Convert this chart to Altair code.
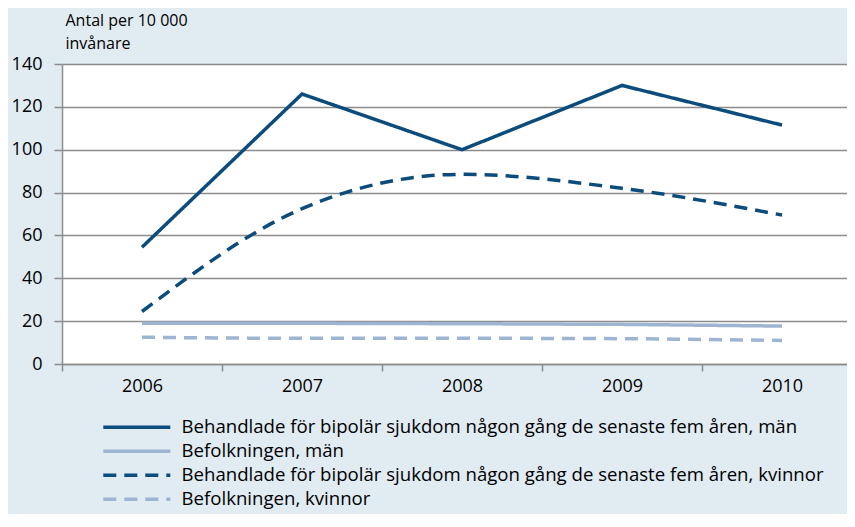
import altair as alt
import pandas as pd

years = [2006, 2007, 2008, 2009, 2010]
series_names = [
    "Behandlade för bipolär sjukdom någon gång de senaste fem åren, män",
    "Befolkningen, män",
    "Behandlade för bipolär sjukdom någon gång de senaste fem åren, kvinnor",
    "Befolkningen, kvinnor",
]
men_bipolar = [54.5, 126, 100, 130, 111.5]
men_population = [19, 19, 18.8, 18.5, 17.7]
women_bipolar = [24.5, 72.5, 88.5, 82, 69.5]
women_population = [12.5, 12, 12, 11.8, 11]

series_colors = ["#0b4c7c", "#9db5d2", "#0b4c7c", "#9db5d2"]
series_dash = [[1, 0], [1, 0], [13, 8], [13, 8]]
y_ticks = [0, 20, 40, 60, 80, 100, 120, 140]

rows = []
for name, vals in zip(series_names, [men_bipolar, men_population, women_bipolar, women_population]):
    for yr, v in zip(years, vals):
        rows.append({"year": yr, "value": v, "series": name})
df = pd.DataFrame(rows)

FONT = "Open Sans"

x_enc = alt.X(
    "year:Q",
    scale=alt.Scale(domain=[2005.5, 2010.406], nice=False, zero=False),
    axis=alt.Axis(
        values=[2005.5, 2006, 2006.5, 2007, 2007.5, 2008, 2008.5, 2009, 2009.5, 2010],
        labelExpr="datum.value % 1 === 0 ? '' + datum.value : ''",
        tickOpacity={"condition": {"test": "datum.value % 1 !== 0", "value": 1}, "value": 0},
        tickSize=7,
        tickColor="#8c8c8c",
        tickWidth=1.5,
        domainColor="#8c8c8c",
        domainWidth=1.5,
        labelFont=FONT,
        labelFontSize=18,
        labelColor="#000000",
        labelPadding=6,
        grid=False,
        title=None,
    ),
)
y_enc = alt.Y(
    "value:Q",
    scale=alt.Scale(domain=[0, 140], nice=False),
    axis=alt.Axis(
        values=y_ticks,
        grid=True,
        gridColor="#8c8c8c",
        gridWidth=1.5,
        tickSize=8,
        tickColor="#8c8c8c",
        tickWidth=1.5,
        domainColor="#8c8c8c",
        domainWidth=1.5,
        labelFont=FONT,
        labelFontSize=18,
        labelColor="#000000",
        labelPadding=12,
        title=["Antal per 10 000", "invånare"],
        titleAngle=0,
        titleAlign="left",
        titleBaseline="alphabetic",
        titleX=3,
        titleY=-39,
        titleFont=FONT,
        titleFontSize=16,
        titleFontWeight="normal",
        titleColor="#000000",
        titleLineHeight=23,
    ),
)
color_enc = alt.Color(
    "series:N",
    scale=alt.Scale(domain=series_names, range=series_colors),
    legend=alt.Legend(
        title=None,
        orient="none",
        legendX=65.5,
        legendY=354,
        padding=0,
        direction="vertical",
        symbolType="M-6.7,0H6.7",
        symbolSize=100,
        symbolStrokeWidth=3.5,
        labelFont=FONT,
        labelFontSize=18.6,
        labelColor="#000000",
        labelOffset=35.5,
        rowPadding=5,
        labelLimit=800,
    ),
)
dash_enc = alt.StrokeDash(
    "series:N",
    scale=alt.Scale(domain=series_names, range=series_dash),
    legend=alt.Legend(title=None),
)

base = alt.Chart(df).encode(x=x_enc, y=y_enc, color=color_enc, strokeDash=dash_enc)

men = base.transform_filter(
    alt.FieldOneOfPredicate(field="series", oneOf=[series_names[0], series_names[1]])
).mark_line(strokeWidth=3.5, strokeCap="butt")
women = base.transform_filter(
    alt.FieldOneOfPredicate(field="series", oneOf=[series_names[2], series_names[3]])
).mark_line(strokeWidth=3.5, strokeCap="butt", interpolate="monotone")

chart = (
    alt.layer(men, women)
    .properties(
        width=785,
        height=300,
        background="#e1ebf2",
        padding={"left": 54, "top": 56, "right": 0, "bottom": 150},
        autosize=alt.AutoSizeParams(type="none"),
    )
    .configure_view(fill="#ffffff", stroke=None)
)

chart.save("out.html", embed_options={"renderer": "svg", "actions": False})
